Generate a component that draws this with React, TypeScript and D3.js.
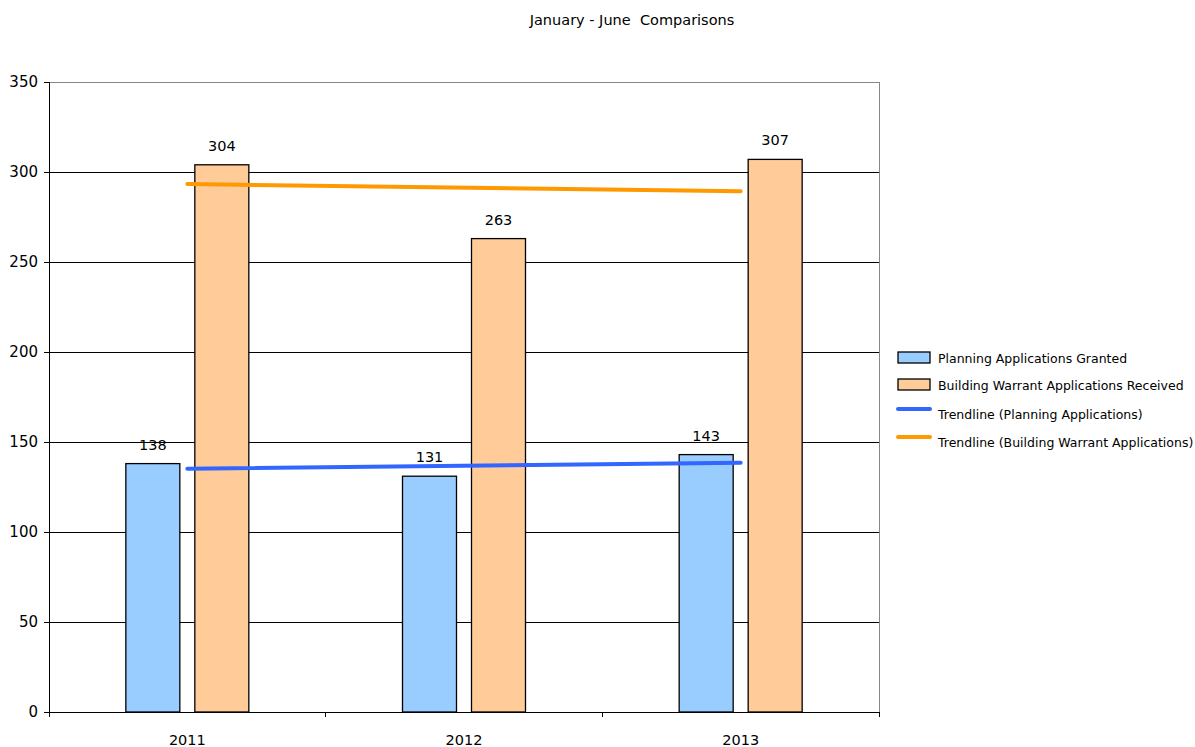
import React from "react";
import * as d3 from "d3";

const years = ["2011", "2012", "2013"];
const planningGranted = [138, 131, 143];
const warrantReceived = [304, 263, 307];
// Trendline end values (first and last year)
const planningTrend = [135.2, 138.5];
const warrantTrend = [293.3, 289.3];
const yTicks = [0, 50, 100, 150, 200, 250, 300, 350];
const seriesNames = [
  "Planning Applications Granted",
  "Building Warrant Applications Received",
];
const trendNames = [
  "Trendline (Planning Applications)",
  "Trendline (Building Warrant Applications)",
];

const W = 1195;
const H = 747;
const left = 49;
const right = 879;
const top = 82;
const bottom = 712;
const FONT = "Tahoma, 'DejaVu Sans', Verdana, sans-serif";

export default function App() {
  const x = d3.scaleBand<string>().domain(years).range([left, right]);
  const y = d3.scaleLinear().domain([0, 350]).range([bottom, top]);
  const barW = 54;
  const gap = 15;
  const centre = (c: string) => (x(c) as number) + x.bandwidth() / 2;

  const bars = [
    { values: planningGranted, fill: "#99CCFF", offset: -gap / 2 - barW },
    { values: warrantReceived, fill: "#FFCC99", offset: gap / 2 },
  ];

  const line = d3
    .line<number>()
    .x((_, i) => centre(years[i === 0 ? 0 : years.length - 1]))
    .y((d) => y(d));

  const trends = [
    { values: planningTrend, color: "#3366FF" },
    { values: warrantTrend, color: "#FF9900" },
  ];

  const boundaries = [left, ...years.map((c) => (x(c) as number) + x.bandwidth())];

  return (
    <svg
      width={W}
      height={H}
      style={{ position: "absolute", left: 0, top: 0, background: "#fff" }}
      fontFamily={FONT}
    >
      <text x={632} y={25} textAnchor="middle" fontSize={14.5} fill="#000">
        January - June{"\u00a0\u00a0"}Comparisons
      </text>

      {/* gridlines */}
      {yTicks.map((t) => (
        <line
          key={t}
          x1={left}
          x2={right}
          y1={y(t)}
          y2={y(t)}
          stroke={t === 350 ? "#888" : "#000"}
          strokeWidth={1}
          shapeRendering="crispEdges"
        />
      ))}
      <line x1={right} x2={right} y1={top} y2={bottom} stroke="#888" shapeRendering="crispEdges" />

      {/* bars */}
      {bars.map((s, si) =>
        s.values.map((v, i) => (
          <rect
            key={`${si}-${i}`}
            x={centre(years[i]) + s.offset}
            y={y(v)}
            width={barW}
            height={bottom - y(v)}
            fill={s.fill}
            stroke="#000"
            strokeWidth={1.3}
          />
        ))
      )}

      {/* value labels */}
      {bars.map((s, si) =>
        s.values.map((v, i) => (
          <text
            key={`l${si}-${i}`}
            x={centre(years[i]) + s.offset + barW / 2}
            y={y(v) - 14}
            textAnchor="middle"
            fontSize={14.5}
            fill="#000"
          >
            {v}
          </text>
        ))
      )}

      {/* trendlines */}
      {trends.map((t, i) => (
        <path
          key={i}
          d={line(t.values) as string}
          fill="none"
          stroke={t.color}
          strokeWidth={4}
          strokeLinecap="round"
        />
      ))}

      {/* axes */}
      <line x1={left} x2={left} y1={top} y2={bottom} stroke="#000" shapeRendering="crispEdges" />
      <line x1={left} x2={right} y1={bottom} y2={bottom} stroke="#000" shapeRendering="crispEdges" />
      {yTicks.map((t) => (
        <g key={`yt${t}`}>
          <line x1={left - 5} x2={left} y1={y(t)} y2={y(t)} stroke="#000" shapeRendering="crispEdges" />
          <text x={left - 11} y={y(t)} dy="0.35em" textAnchor="end" fontSize={15} fill="#000">
            {t}
          </text>
        </g>
      ))}
      {boundaries.map((b, i) => (
        <line key={`xt${i}`} x1={b} x2={b} y1={bottom} y2={bottom + 5} stroke="#000" shapeRendering="crispEdges" />
      ))}
      {years.map((c) => (
        <text key={c} x={centre(c)} y={745} textAnchor="middle" fontSize={14.5} fill="#000">
          {c}
        </text>
      ))}

      {/* legend */}
      {bars.map((s, i) => (
        <g key={`lg${i}`} transform={`translate(898, ${352 + i * 27})`}>
          <rect x={0} y={0} width={32} height={11} fill={s.fill} stroke="#000" strokeWidth={1.3} />
          <text x={40} y={7} dy="0.35em" fontSize={12.5} fill="#000">
            {seriesNames[i]}
          </text>
        </g>
      ))}
      {trends.map((t, i) => (
        <g key={`lt${i}`} transform={`translate(898, ${409 + i * 28})`}>
          <line x1={0} x2={32} y1={0} y2={0} stroke={t.color} strokeWidth={4} strokeLinecap="round" />
          <text x={40} y={5.5} dy="0.35em" fontSize={12.5} fill="#000">
            {trendNames[i]}
          </text>
        </g>
      ))}
    </svg>
  );
}
